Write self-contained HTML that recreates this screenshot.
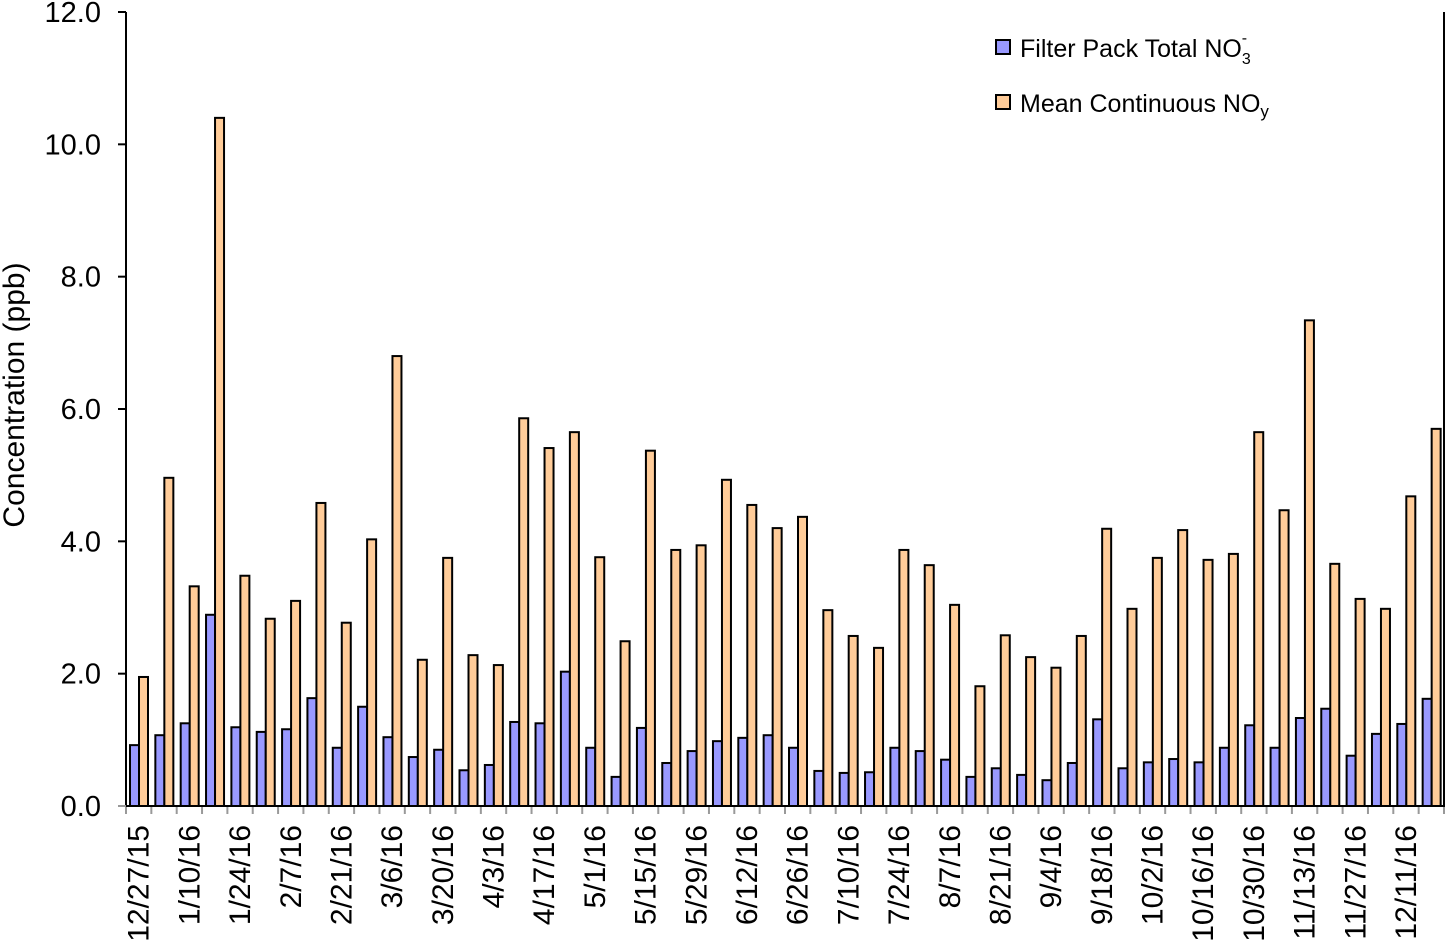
<!DOCTYPE html>
<html><head><meta charset="utf-8"><style>
body{margin:0;background:#fff}
svg text{font-family:"Liberation Sans",Arial,sans-serif;fill:#000}
</style></head><body>
<svg id="chart" width="1447" height="943" xmlns="http://www.w3.org/2000/svg"></svg>
<script>
const categories=["12/27/15","1/3/16","1/10/16","1/17/16","1/24/16","1/31/16","2/7/16","2/14/16","2/21/16","2/28/16","3/6/16","3/13/16","3/20/16","3/27/16","4/3/16","4/10/16","4/17/16","4/24/16","5/1/16","5/8/16","5/15/16","5/22/16","5/29/16","6/5/16","6/12/16","6/19/16","6/26/16","7/3/16","7/10/16","7/17/16","7/24/16","7/31/16","8/7/16","8/14/16","8/21/16","8/28/16","9/4/16","9/11/16","9/18/16","9/25/16","10/2/16","10/9/16","10/16/16","10/23/16","10/30/16","11/6/16","11/13/16","11/20/16","11/27/16","12/4/16","12/11/16","12/18/16"];
const filterPack=[0.92,1.07,1.25,2.89,1.19,1.12,1.16,1.63,0.88,1.50,1.04,0.74,0.85,0.54,0.62,1.27,1.25,2.03,0.88,0.44,1.18,0.65,0.83,0.98,1.03,1.07,0.88,0.53,0.50,0.51,0.88,0.83,0.70,0.44,0.57,0.47,0.39,0.65,1.31,0.57,0.66,0.71,0.66,0.88,1.22,0.88,1.33,1.47,0.76,1.09,1.24,1.62];
const meanNOy=[1.95,4.96,3.32,10.40,3.48,2.83,3.10,4.58,2.77,4.03,6.80,2.21,3.75,2.28,2.13,5.86,5.41,5.65,3.76,2.49,5.37,3.87,3.94,4.93,4.55,4.20,4.37,2.96,2.57,2.39,3.87,3.64,3.04,1.81,2.58,2.25,2.09,2.57,4.19,2.98,3.75,4.17,3.72,3.81,5.65,4.47,7.34,3.66,3.13,2.98,4.68,5.70];
const yTicks=[0,2,4,6,8,10,12];
const yTickLabels=["0.0","2.0","4.0","6.0","8.0","10.0","12.0"];

const svg=document.getElementById('chart');
const NS='http://www.w3.org/2000/svg';
const X0=126,X1=1444,Y0=806,Y1=12,YMAX=12;
const cw=(X1-X0)/categories.length;
const y=v=>Y0-(v/YMAX)*(Y0-Y1);
const xc=i=>X0+i*cw;
function mk(tag,attrs,parent){const e=document.createElementNS(NS,tag);for(const k in attrs)e.setAttribute(k,attrs[k]);(parent||svg).appendChild(e);return e;}

const yAxisG=mk('g',{});


yTicks.forEach((t,i)=>{
  const ln=mk('line',{x1:X0-8,x2:X0,y1:y(t),y2:y(t),stroke:'#000','stroke-width':2},yAxisG);
  
  
  const tx=mk('text',{x:X0-25,y:y(t)+10,'text-anchor':'end','font-size':29},yAxisG);
  
  
  tx.textContent=yTickLabels[i];
});
const yt=mk('text',{x:0,y:0,'text-anchor':'middle','font-size':30,transform:`translate(24,395) rotate(-90)`});


yt.textContent='Concentration (ppb)';

const barsG=mk('g',{});


const bw=9;
categories.forEach((c,i)=>{
  const x=xc(i)+4;
  const b1=mk('rect',{x:x,y:y(filterPack[i]),width:bw,height:Y0-y(filterPack[i]),fill:'#9999ff',stroke:'#000','stroke-width':2},barsG);
  
  
  const b2=mk('rect',{x:x+bw,y:y(meanNOy[i]),width:bw,height:Y0-y(meanNOy[i]),fill:'#ffcc99',stroke:'#000','stroke-width':2},barsG);
  
  
});

const xAxisG=mk('g',{});


for(let i=0;i<=categories.length;i++){
  const t=mk('line',{x1:xc(i),x2:xc(i),y1:Y0,y2:Y0+8,stroke:'#999','stroke-width':2},xAxisG);
  
  
}
categories.forEach((c,i)=>{
  if(i%2) return;
  const cx=xc(i)+cw/2+10;
  const t=mk('text',{x:0,y:0,'text-anchor':'end','font-size':30,transform:`translate(${cx},${Y0+19}) rotate(-90)`},xAxisG);
  
  
  t.textContent=c;
});
const ax=mk('path',{d:`M${X0} ${Y1} V${Y0} H${X1} V${Y1}`,fill:'none',stroke:'#000','stroke-width':2});


mk('line',{x1:X0-8,x2:X0,y1:Y0,y2:Y0,stroke:'#999','stroke-width':2});

const lg=mk('g',{});


const e1=mk('g',{},lg);


mk('rect',{x:996,y:40,width:14,height:14,fill:'#9999ff',stroke:'#000','stroke-width':2},e1);
const t1=mk('text',{x:1020,y:57,'font-size':25},e1);
t1.innerHTML='Filter Pack Total NO<tspan font-size="16" dy="7">3</tspan><tspan font-size="16" dx="-9" dy="-21">-</tspan>';
const e2=mk('g',{},lg);


mk('rect',{x:996,y:95,width:14,height:14,fill:'#ffcc99',stroke:'#000','stroke-width':2},e2);
const t2=mk('text',{x:1020,y:112,'font-size':25},e2);
t2.innerHTML='Mean Continuous NO<tspan font-size="17" dy="5">y</tspan>';
</script>
</body></html>
